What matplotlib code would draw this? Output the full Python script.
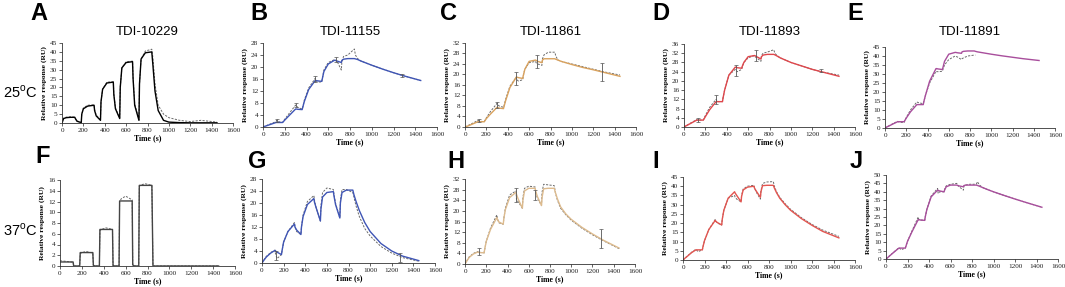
import numpy as np
from matplotlib import pyplot as plt

nan = np.nan

# time grid (s) shared by all sensorgrams
T = [0, 15, 40, 80, 120, 125, 140, 180, 185, 200, 240, 300, 305, 320, 360, 365, 380, 420, 480, 485, 500,
     540, 545, 560, 600, 660, 665, 680, 720, 725, 740, 780, 840, 850, 870, 900, 950, 1000, 1100, 1200, 1300, 1450]

# 25 C
A_fit = [0, 2.5, 3, 3.2, 3.2, 2.5, 1.0, 0.2, 5, 8, 9.5, 10, 7, 4, 1.5, 12, 19, 22.5, 23, 16, 8,
         2.5, 20, 31, 34, 34.5, 25, 10, 1.5, 22, 36, 39.5, 40, 33, 18, 7, 1.5, 0.5, 0.2, 0.1, 0.1, 0.1]
A_data = [0, 2.7, 3.3, 3.5, 3.3, 2.6, 1.2, 0.3, 5, 8.5, 10, 10.2, 7.5, 4.5, 1.8, 12, 19, 23, 23.2, 16.5, 8.5,
          2.8, 20, 31, 34.5, 34.8, 26, 11, 1.8, 22, 36, 40.5, 41.5, 37, 22, 10, 5, 3, 1.5, 0.8, 1.5, 0.5]
B_fit = [0, 0.2, 0.5, 1.0, 1.5, 1.5, 1.5, 1.5, 1.7, 2.3, 3.8, 6, 6, 5.9, 5.8, 6.5, 8.5, 12.5, 15.5, 15.5, 15.4,
         15.2, 16, 18.5, 21, 22.3, 22.2, 22, 21.5, 22.2, 22.6, 22.8, 22.8, 22.7, 22.5, 22, 21.3, 20.6, 19.3, 18.1, 17, 15.5]
B_data = [0, 0.2, 0.6, 1.2, 1.8, 2.2, 1.8, 1.5, 1.8, 2.6, 4.5, 7.3, 7.2, 6.5, 6, 6.5, 9, 13, 16.2, 15.5, 15,
          15, 16, 19, 21.5, 22.5, 22.2, 22, 19, 21.5, 23.5, 24, 26, 24, 22.8, 22, 21.3, 20.6, 19.3, 18.1, 17, 15.5]
C_fit = [0, 0.2, 0.6, 1.3, 2, 2, 2, 2, 2.3, 3.2, 5, 7.5, 7.4, 7.2, 7, 7.8, 10, 15, 19, 19, 18.8,
         18.5, 19.5, 22, 25, 25.5, 25.4, 25, 24.5, 25.5, 26, 26, 26, 25.8, 25.5, 25, 24.4, 23.8, 22.7, 21.8, 20.8, 19.3]
C_data = [0, 0.3, 0.8, 1.6, 2.5, 2.5, 2.2, 2, 2.4, 3.5, 6, 9, 8.5, 8, 7.5, 8, 10.5, 15.5, 19, 18, 17.5,
          18, 19.5, 22, 24.5, 25, 24.5, 24, 23.5, 26, 27.5, 28.5, 28.5, 27, 25.5, 25, 24.5, 24, 23, 22, 21, 19.8]
D_fit = [0, 0.4, 1.0, 2, 3, 3, 3, 3, 3.3, 4.5, 7.5, 11, 11, 11, 11, 12.5, 16, 22.5, 26, 25.9, 25.7,
         25.5, 26.3, 28, 30.5, 31, 30.9, 30.5, 29.5, 30.5, 31.2, 31.5, 31.5, 31.3, 30.8, 30, 29, 28, 26.5, 25, 23.8, 22]
D_data = [0, 0.4, 1.1, 2.2, 3.2, 3, 3, 3, 3.5, 5, 8.5, 12, 11.5, 11, 11, 12.5, 16, 22.5, 25, 24.5, 24,
          25, 26, 28, 30, 31, 30.5, 30, 28.5, 31, 32, 32.5, 33.5, 32, 31, 30, 29, 28, 26.5, 25, 23.8, 22.5]
E_fit = [0, 0.5, 1.2, 2.4, 3.5, 3.5, 3.5, 3.5, 4, 5.5, 9, 13, 13, 13, 13, 14.5, 18, 26, 33, 33, 32.8,
         32.5, 33.5, 37, 41, 42, 42, 41.8, 41.5, 42.3, 42.6, 42.8, 42.8, 42.6, 42.3, 42, 41.5, 41, 40.1, 39.3, 38.5, 37.5]
E_data = [0, 0.5, 1.3, 2.6, 3.7, 3.5, 3.2, 3, 3.8, 5.8, 10, 14.5, 14.3, 14, 13.5, 14.5, 18, 25, 31.5, 31.3, 31.3,
          31.5, 32.5, 35, 38, 40, 39.8, 39.5, 38, 38.5, 39, 40, 40.5, 40.5, nan, nan, nan, nan, nan, nan, nan, nan]

# 37 C
F_fit = [0.75, 0.75, 0.75, 0.75, 0.75, 0, 0, 0, 2.5, 2.5, 2.5, 2.5, 0.1, 0, 0, 6.8, 6.8, 6.8, 6.8, 0.1, 0,
         0, 12.1, 12.1, 12.1, 12.1, 0.2, 0, 0, 15, 15, 15, 15, 0, 0, 0, 0, 0, 0, 0, 0, 0]
F_data = [0.95, 0.95, 0.9, 0.8, 0.7, 0, 0, 0, 2.3, 2.5, 2.7, 2.4, 0.2, 0, 0, 6.6, 6.8, 7.1, 6.8, 0.1, 0,
          0, 12, 12.5, 13, 12.3, 0.3, 0, 0, 14.8, 15.1, 15.3, 15, 0, 0, 0, 0, 0, 0, 0, 0, 0]
G_fit = [0, 0.8, 2, 3.3, 4.2, 4, 3.6, 2.8, 4, 7, 10.5, 13, 12, 11, 9.5, 12, 15.5, 19.5, 21.5, 20.3, 18.5,
         14, 18, 22, 23.5, 23.8, 22.5, 19.5, 15, 20, 23.5, 24.3, 24.3, 22.8, 20.5, 17.5, 13.5, 10.5, 6.5, 4, 2.3, 0.8]
G_data = [0, 0.9, 2.2, 3.5, 4.3, 3, 1.5, 2.8, 4, 7, 10.5, 13.5, 12, 10.5, 9.5, 12, 16, 20.5, 22.5, 21, 18.5,
          14, 19, 23.5, 25, 24.5, 23, 20, 15, 21, 24.5, 24.5, 23.5, 22, 19, 15.5, 11.5, 9, 5.5, 3.3, 1.8, 0.6]
H_fit = [0, 1, 2.5, 3.8, 4.5, 4.4, 4.3, 4.2, 5.5, 8.5, 13, 17.5, 16.8, 15.8, 15, 17, 20.5, 25, 27, 26.2, 24.5,
         21, 24, 27.5, 28.5, 28.5, 27.5, 25.5, 22, 25, 28.3, 28.5, 28.5, 27, 24.5, 21.5, 18.8, 16.8, 13.8, 11.3, 9, 6]
H_data = [0, 1.1, 2.7, 4, 4.7, 4.5, 4.4, 4.2, 5.5, 8.5, 13.5, 18.5, 17, 15.5, 15, 17, 21, 26, 27.5, 24, 23.5,
          21, 25, 28.5, 29.3, 29, 27, 25, 22, 27, 30, 29.8, 29.5, 27, 24, 21, 18.5, 16.5, 13.5, 11, 8.8, 5.8]
I_fit = [0, 0.8, 2, 4, 5.5, 5.5, 5.5, 5.5, 7, 10.5, 16.5, 21.5, 21, 20.3, 19, 22, 27, 33.5, 37, 36.3, 35,
         31.5, 34.5, 38, 39.5, 40, 39, 37.5, 34, 37, 40.3, 40.5, 40.5, 39, 36.5, 33.5, 30, 27, 22.5, 18.8, 15.5, 12]
I_data = [0, 0.8, 2.1, 4.2, 5.8, 5.5, 4.5, 5.5, 7, 10.5, 16.5, 22, 21, 20, 19, 22, 27, 33.5, 35, 34, 33,
          31.5, 35, 38.5, 40, 40.5, 39, 37, 33, 37.5, 41.5, 42.3, 42.5, 40, 37, 34, 30.5, 27.5, 23, 19.3, 16.2, 12.8]
J_fit = [0, 0.8, 2.2, 4.4, 6.5, 6.5, 6.5, 6.5, 7.5, 10.5, 16, 23.5, 23.4, 23.2, 23, 25, 29.5, 37, 41, 40.8, 40.5,
         40, 41, 43, 44, 44, 43.8, 43.5, 43, 43.7, 44, 44, 44, 43.8, 43.3, 42.5, 41.2, 40, 37.8, 35.7, 33.7, 30.8]
J_data = [0, 0.8, 2.3, 4.5, 6.7, 6.5, 5.5, 6.5, 7.5, 10.5, 16.5, 25, 23.5, 23.2, 23, 25, 29.5, 37.5, 42, 39, 40,
          40, 41.5, 43.5, 44.5, 45, 44, 43, 41, 43.5, 44, 44.5, 44.5, 46, 44, 42.5, 41.2, 40, 37.8, 35.7, 33.7, 30.8]

# replicate error bars (time, response, half range)
B_err = ([130, 300, 480, 670, 1280], [2, 7.3, 16, 22.5, 17.2], [0.5, 0.8, 1, 0.8, 0.6])
C_err = ([130, 300, 480, 670, 1280], [2.5, 8.5, 18.5, 25, 21], [0.5, 1.2, 2.5, 2.5, 3.5])
D_err = ([130, 300, 490, 670, 1280], [3, 12, 24.5, 31, 24.5], [1, 2, 2.5, 2.5, 0.5])
G_err = ([130, 1280], [2.5, 2], [1.5, 1.5])
H_err = ([130, 480, 660, 1280], [4.7, 26, 26, 9.5], [1.2, 2.5, 2, 3.5])

titles = ['TDI-10229', 'TDI-11155', 'TDI-11861', 'TDI-11893', 'TDI-11891']
letters = ['A', 'B', 'C', 'D', 'E', 'F', 'G', 'H', 'I', 'J']
fits = [A_fit, B_fit, C_fit, D_fit, E_fit, F_fit, G_fit, H_fit, I_fit, J_fit]
datas = [A_data, B_data, C_data, D_data, E_data, F_data, G_data, H_data, I_data, J_data]
errs = [None, B_err, C_err, D_err, None, None, G_err, H_err, None, None]
ymax = [45, 28, 32, 36, 45, 16, 28, 32, 45, 50]
ystep = [5, 4, 4, 4, 5, 2, 4, 4, 5, 5]
colors = ['black', '#3F55B5', '#D9A25E', '#E0474C', '#A84E9C',
          '#444444', '#3F55B5', '#DDBB8E', '#E35550', '#A84E9C']

# axes boxes in pixels: x0, x1 (0..1600), ytop, ybottom
boxes = [(62, 233, 43, 123), (263, 437, 43, 127), (465, 636, 43, 127), (684, 855, 44, 127), (885, 1055, 47, 128),
         (60, 235, 180, 266), (262, 435, 179, 263), (465, 635, 179, 264), (683, 855, 177, 260), (886, 1058, 175, 259)]
letter_pos = [(30, 20), (250, 20), (440, 20), (652, 20), (847, 20),
              (35, 163), (248, 168), (447, 168), (652, 168), (850, 168)]

W, H = 1065, 287
fig = plt.figure(figsize=(W/100, H/100), dpi=100)
serif = 'Liberation Serif'
sans = 'Liberation Sans'

for i in range(10):
    x0, x1, yt, yb = boxes[i]
    ax = fig.add_axes([x0/W, 1-yb/H, (x1-x0)/W, (yb-yt)/H])
    ax.plot(T, datas[i], linestyle=(0, (2.2, 1.4)), color='#6a6a6a', linewidth=0.7)
    ax.plot(T, fits[i], color=colors[i], linewidth=1.0)
    if errs[i] is not None:
        ax.errorbar(errs[i][0], errs[i][1], yerr=errs[i][2], fmt='none',
                    ecolor='#555555', elinewidth=0.6, capsize=1.2, capthick=0.5)
    ax.set_xlim(0, 1600)
    ax.set_ylim(0, ymax[i])
    ax.set_xticks(np.arange(0, 1601, 200))
    ax.set_yticks(np.arange(0, ymax[i]+0.1, ystep[i]))
    for s in ['top', 'right']:
        ax.spines[s].set_visible(False)
    for s in ['left', 'bottom']:
        ax.spines[s].set_linewidth(0.6)
        ax.spines[s].set_color('#333333')
    ax.tick_params(length=2, width=0.5, pad=1.5, labelsize=5.2, colors='#222222')
    for lab in ax.get_xticklabels() + ax.get_yticklabels():
        lab.set_fontfamily(serif)
    ax.set_xlabel('Time (s)', fontsize=5.6, fontweight='bold', family=serif, labelpad=1)
    ax.set_ylabel('Relative response (RU)', fontsize=5.4, fontweight='bold', family=serif, labelpad=2)
    lx, ly = letter_pos[i]
    fig.text(lx/W, 1-ly/H, letters[i], fontsize=17, fontweight='bold', family=sans)

for i in range(5):
    x0, x1, yt, yb = boxes[i]
    fig.text((x0+x1)/2/W, 1-32/H, titles[i], fontsize=9.5, family=sans, ha='center', va='center')

fig.text(3/W, 1-92/H, '25$^\\mathregular{o}$C', fontsize=10.5, family=sans, va='center')
fig.text(3/W, 1-230/H, '37$^\\mathregular{o}$C', fontsize=10.5, family=sans, va='center')

plt.savefig('out.png', dpi=100)
